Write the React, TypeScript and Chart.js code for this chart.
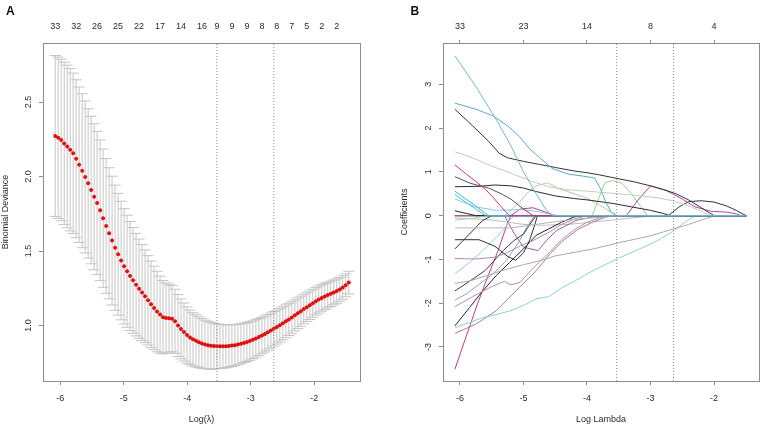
import React, { useEffect, useRef } from "react";
import { Chart, registerables } from "chart.js";

Chart.register(...registerables);

const FONT_FAMILY = '"Liberation Sans", Arial, Helvetica, sans-serif';
const AXIS_GREY = "#8c8c8c";
const TEXT = "#2b2b2b";
const BAR_GREY = "#c4c4c4";
const VLINE_GREY = "#8a8a8a";

// ---------------- Panel A: cross-validated binomial deviance ----------------
const A_LOG_LAMBDA = [
  -6.080, -6.033, -5.986, -5.938, -5.891, -5.844, -5.797, -5.750, -5.703, -5.655,
  -5.608, -5.561, -5.514, -5.467, -5.420, -5.372, -5.325, -5.278, -5.231, -5.184,
  -5.137, -5.089, -5.042, -4.995, -4.948, -4.901, -4.854, -4.806, -4.759, -4.712,
  -4.665, -4.618, -4.571, -4.523, -4.476, -4.429, -4.382, -4.335, -4.287, -4.240,
  -4.193, -4.146, -4.099, -4.052, -4.004, -3.957, -3.910, -3.863, -3.816, -3.769,
  -3.721, -3.674, -3.627, -3.580, -3.533, -3.486, -3.438, -3.391, -3.344, -3.297,
  -3.250, -3.203, -3.155, -3.108, -3.061, -3.014, -2.967, -2.920, -2.872, -2.825,
  -2.778, -2.731, -2.684, -2.637, -2.589, -2.542, -2.495, -2.448, -2.401, -2.354,
  -2.306, -2.259, -2.212, -2.165, -2.118, -2.071, -2.023, -1.976, -1.929, -1.882,
  -1.835, -1.788, -1.740, -1.693, -1.646, -1.599, -1.552, -1.505, -1.457,
];
const A_MEAN = [
  2.272, 2.260, 2.245, 2.222, 2.201, 2.180, 2.156, 2.119, 2.079, 2.039,
  1.997, 1.954, 1.909, 1.864, 1.822, 1.773, 1.720, 1.668, 1.619, 1.570,
  1.522, 1.478, 1.436, 1.397, 1.364, 1.332, 1.303, 1.274, 1.247, 1.221,
  1.196, 1.169, 1.143, 1.118, 1.094, 1.073, 1.056, 1.050, 1.049, 1.046,
  1.028, 1.000, 0.977, 0.956, 0.936, 0.920, 0.907, 0.897, 0.888, 0.880,
  0.873, 0.868, 0.864, 0.862, 0.860, 0.860, 0.860, 0.861, 0.863, 0.865,
  0.868, 0.872, 0.877, 0.883, 0.889, 0.896, 0.904, 0.913, 0.923, 0.933,
  0.943, 0.954, 0.966, 0.978, 0.990, 1.002, 1.015, 1.028, 1.041, 1.054,
  1.068, 1.082, 1.096, 1.110, 1.123, 1.136, 1.149, 1.162, 1.174, 1.185,
  1.195, 1.204, 1.213, 1.222, 1.231, 1.242, 1.255, 1.270, 1.288,
];
const A_SD = [
  0.540, 0.541, 0.542, 0.545, 0.546, 0.545, 0.538, 0.530, 0.522, 0.517,
  0.510, 0.501, 0.495, 0.490, 0.481, 0.472, 0.464, 0.452, 0.440, 0.432,
  0.420, 0.409, 0.398, 0.387, 0.376, 0.366, 0.355, 0.344, 0.333, 0.322,
  0.311, 0.300, 0.290, 0.280, 0.270, 0.258, 0.246, 0.236, 0.228, 0.222,
  0.215, 0.208, 0.201, 0.195, 0.189, 0.184, 0.179, 0.175, 0.171, 0.167,
  0.163, 0.160, 0.157, 0.154, 0.150, 0.148, 0.146, 0.144, 0.142, 0.140,
  0.138, 0.136, 0.134, 0.132, 0.131, 0.129, 0.127, 0.126, 0.124, 0.122,
  0.121, 0.119, 0.118, 0.116, 0.114, 0.113, 0.111, 0.110, 0.108, 0.106,
  0.104, 0.103, 0.101, 0.099, 0.097, 0.096, 0.094, 0.092, 0.091, 0.089,
  0.088, 0.086, 0.085, 0.083, 0.082, 0.080, 0.079, 0.077, 0.076,
];
const A_TOP_POS = [
  -6.080, -5.750, -5.420, -5.089, -4.759, -4.429, -4.099, -3.769, -3.533,
  -3.297, -3.061, -2.825, -2.589, -2.354, -2.118, -1.882, -1.646,
];
const A_TOP_COUNTS = ["33", "32", "26", "25", "22", "17", "14", "16", "9", "9", "9", "8", "8", "7", "5", "2", "2"];
const A_X_TICKS = [-6, -5, -4, -3, -2];
const A_Y_TICKS = [1.0, 1.5, 2.0, 2.5];
const A_X_RANGE = [-6.272, -1.28];
const A_Y_RANGE = [0.6275, 2.896];

const LOG_LAMBDA_MIN = -3.533;
const LOG_LAMBDA_1SE = -2.637;

// ---------------- Panel B: coefficient paths ----------------
const B_X_TICKS = [-6, -5, -4, -3, -2];
const B_TOP_COUNTS = ["33", "23", "14", "8", "4"];
const B_Y_TICKS = [-3, -2, -1, 0, 1, 2, 3];
const B_X_RANGE = [-6.267, -1.292];
const B_Y_RANGE = [-3.777, 3.943];
const B_PATH_END = -1.49;

const PATH_01 = [[-6.08, 3.65], [-5.75, 2.95], [-5.43, 2.2], [-5.2, 1.6], [-5.0, 1.0], [-4.8, 0.5], [-4.65, 0.15], [-4.55, 0]];
const PATH_02 = [[-6.08, 2.57], [-5.75, 2.43], [-5.48, 2.28], [-5.25, 2.05], [-5.06, 1.8], [-4.9, 1.52], [-4.75, 1.33], [-4.55, 1.08], [-4.3, 0.95], [-4.05, 0.9], [-3.88, 0.86], [-3.8, 0.65], [-3.7, 0.3], [-3.62, 0.08], [-3.54, 0]];
const PATH_03 = [[-6.08, 2.43], [-5.8, 2.05], [-5.55, 1.7], [-5.38, 1.42], [-5.25, 1.32], [-5.0, 1.24], [-4.75, 1.17], [-4.5, 1.1], [-4.2, 1.02], [-4.0, 0.98], [-3.8, 0.93], [-3.53, 0.85], [-3.25, 0.77], [-3.0, 0.68], [-2.8, 0.6], [-2.6, 0.5], [-2.4, 0.36], [-2.2, 0.18], [-2.0, 0]];
const PATH_04 = [[-6.08, 1.46], [-5.8, 1.32], [-5.5, 1.13], [-5.2, 0.97], [-4.9, 0.8], [-4.6, 0.66], [-4.3, 0.59], [-4.0, 0.56], [-3.6, 0.51], [-3.2, 0.46], [-2.9, 0.41], [-2.65, 0.34], [-2.4, 0.22], [-2.2, 0.1], [-2.05, 0]];
const PATH_05 = [[-6.08, 1.16], [-5.9, 0.95], [-5.75, 0.78], [-5.6, 0.6], [-5.48, 0.42], [-5.35, 0.2], [-5.27, 0.07], [-5.22, 0]];
const PATH_06 = [[-6.08, 0.89], [-5.84, 0.74], [-5.55, 0.63], [-5.35, 0.5], [-5.2, 0.38], [-5.0, 0.15], [-4.85, 0]];
const PATH_07 = [[-6.08, 0.66], [-5.7, 0.67], [-5.45, 0.7], [-5.2, 0.68], [-5.0, 0.63], [-4.8, 0.55], [-4.5, 0.45], [-4.2, 0.39], [-4.0, 0.36], [-3.6, 0.28], [-3.3, 0.2], [-3.0, 0.12], [-2.8, 0.05], [-2.7, 0]];
const PATH_08 = [[-6.08, 0.56], [-5.95, 0.42], [-5.75, 0.22], [-5.6, 0.05], [-5.55, 0]];
const PATH_09 = [[-6.08, 0.48], [-5.9, 0.3], [-5.75, 0.15], [-5.62, 0.02], [-5.58, 0]];
const PATH_10 = [[-6.08, 0.38], [-5.75, 0.2], [-5.43, 0.12], [-5.06, 0.14], [-4.8, 0.1], [-4.6, 0.04], [-4.45, 0]];
const PATH_11 = [[-6.08, 0.11], [-5.9, 0.05], [-5.75, 0]];
const PATH_12 = [[-6.08, -0.1], [-5.8, -0.06], [-5.55, 0]];
const PATH_13 = [[-6.08, -0.28], [-5.6, -0.28], [-5.2, -0.28], [-4.9, -0.22], [-4.6, -0.16], [-4.3, -0.1], [-4.0, -0.06], [-3.7, -0.03], [-3.45, 0]];
const PATH_14 = [[-6.08, -0.55], [-5.7, -0.55], [-5.45, -0.7], [-5.25, -0.93], [-5.12, -1.02], [-5.0, -0.85], [-4.9, -0.55], [-4.82, -0.2], [-4.78, 0]];
const PATH_15 = [[-6.08, -0.76], [-5.85, -0.42], [-5.65, -0.12], [-5.5, 0]];
const PATH_16 = [[-6.08, -0.98], [-5.75, -0.99], [-5.45, -0.95], [-5.25, -0.84], [-5.05, -0.69], [-4.85, -0.57], [-4.6, -0.38], [-4.4, -0.2], [-4.2, -0.08], [-4.0, 0]];
const PATH_17 = [[-6.08, -1.33], [-5.85, -1.07], [-5.64, -0.8], [-5.48, -0.57], [-5.32, -0.34], [-5.22, -0.11], [-5.15, 0]];
const PATH_18 = [[-6.08, -1.55], [-5.84, -1.49], [-5.58, -1.37], [-5.35, -1.26], [-5.0, -1.12], [-4.74, -1.03], [-4.5, -0.92], [-4.2, -0.84], [-3.9, -0.76], [-3.5, -0.62], [-3.0, -0.46], [-2.7, -0.33], [-2.4, -0.2], [-2.2, -0.1], [-1.98, 0]];
const PATH_19 = [[-6.08, -1.72], [-5.85, -1.5], [-5.6, -1.25], [-5.32, -0.8], [-5.15, -0.57], [-5.0, -0.42], [-4.9, -0.2], [-4.8, 0]];
const PATH_20 = [[-6.08, -1.93], [-5.9, -1.79], [-5.69, -1.56], [-5.48, -1.33], [-5.27, -1.03], [-5.06, -0.57], [-4.95, -0.27], [-4.85, -0.05], [-4.8, 0]];
const PATH_21 = [[-6.08, -2.08], [-5.8, -1.85], [-5.5, -1.62], [-5.3, -1.5], [-5.2, -1.58], [-5.05, -1.52], [-4.85, -1.2], [-4.6, -0.85], [-4.4, -0.55], [-4.2, -0.32], [-4.0, -0.15], [-3.8, -0.05], [-3.65, 0]];
const PATH_22 = [[-6.08, -2.52], [-5.85, -2.1], [-5.64, -1.72], [-5.43, -1.37], [-5.22, -1.07], [-5.0, -0.76], [-4.8, -0.45], [-4.6, -0.3], [-4.4, -0.15], [-4.2, -0.03], [-4.05, 0]];
const PATH_23 = [[-6.08, -2.56], [-5.85, -2.44], [-5.64, -2.33], [-5.4, -2.25], [-5.2, -2.17], [-5.0, -2.05], [-4.8, -1.9], [-4.6, -1.85], [-4.4, -1.65], [-4.2, -1.5], [-4.0, -1.33], [-3.8, -1.18], [-3.5, -0.97], [-3.2, -0.78], [-2.9, -0.58], [-2.65, -0.36], [-2.45, -0.14], [-2.3, 0]];
const PATH_24 = [[-6.08, -2.69], [-5.75, -2.48], [-5.43, -2.17], [-5.12, -1.72], [-4.8, -1.26], [-4.6, -0.9], [-4.4, -0.6], [-4.15, -0.32], [-3.9, -0.14], [-3.7, -0.03], [-3.6, 0]];
const PATH_25 = [[-6.08, -3.51], [-5.9, -2.75], [-5.72, -2.0], [-5.55, -1.35], [-5.4, -0.8], [-5.27, -0.25], [-5.2, 0], [-5.05, 0.15], [-4.85, 0.18], [-4.65, 0.08], [-4.5, 0]];
const PATH_26 = [[-6.08, 0], [-3.38, 0], [-3.2, 0.35], [-3.0, 0.68], [-2.75, 0.57], [-2.5, 0.38], [-2.3, 0.2], [-2.05, 0.1], [-1.8, 0.08], [-1.65, 0.04], [-1.58, 0]];
const PATH_27 = [[-6.08, 0], [-5.3, 0], [-5.1, 0.25], [-4.95, 0.5], [-4.8, 0.68], [-4.62, 0.75], [-4.45, 0.62], [-4.2, 0.5], [-4.0, 0.4], [-3.8, 0.24], [-3.62, 0.08], [-3.52, 0]];
const PATH_28 = [[-6.08, 0], [-3.92, 0], [-3.8, 0.45], [-3.72, 0.75], [-3.6, 0.8], [-3.45, 0.74], [-3.3, 0.5], [-3.15, 0.2], [-3.05, 0]];
const PATH_29 = [[-6.08, 0], [-5.3, 0], [-5.15, -0.4], [-5.0, -0.72], [-4.77, -0.8], [-4.64, -0.57], [-4.48, -0.34], [-4.17, -0.11], [-3.9, -0.03], [-3.7, 0]];
const PATH_30 = [[-6.08, 0], [-2.72, 0], [-2.55, 0.2], [-2.4, 0.32], [-2.2, 0.34], [-2.0, 0.31], [-1.8, 0.22], [-1.65, 0.12], [-1.55, 0.04], [-1.49, 0]];
const PATH_31 = [[-6.08, -0.05], [-5.5, -0.1], [-5.0, -0.2], [-4.7, -0.22], [-4.3, -0.2], [-4.0, -0.16], [-3.6, -0.1], [-3.2, -0.04], [-2.9, 0]];
const PATH_32 = [[-6.08, 0]];

const B_PATHS = [
  PATH_01, PATH_02, PATH_03, PATH_04, PATH_05, PATH_06, PATH_07, PATH_08,
  PATH_09, PATH_10, PATH_11, PATH_12, PATH_13, PATH_14, PATH_15, PATH_16,
  PATH_17, PATH_18, PATH_19, PATH_20, PATH_21, PATH_22, PATH_23, PATH_24,
  PATH_25, PATH_26, PATH_27, PATH_28, PATH_29, PATH_30, PATH_31, PATH_32,
];
const B_COLORS = [
  "#6cbccf", "#5aa9c8", "#333333", "#c4cdb9", "#c2318f", "#555555", "#2a2a2a", "#2fb9d3",
  "#49c2dd", "#8dc8e0", "#222222", "#a6d39b", "#b5b5b5", "#333333", "#333333", "#a690a0",
  "#8fd0e0", "#a9a9a9", "#3a3a3a", "#8fa6b8", "#b98e9c", "#222222", "#8ccfde", "#b07a8a",
  "#c0388e", "#b5479a", "#a8d49a", "#9ccf8a", "#9b5fa6", "#333333", "#bdbdbd", "#222222",
];

// ---------------- helpers ----------------
const font = (size = 9) => ({ family: FONT_FAMILY, size });
const fixTicks = (vals: number[]) => (s: any) => {
  s.ticks = vals.map((v) => ({ value: v }));
};

type ScaleSpec = {
  xRange: number[];
  yRange: number[];
  xTicks: number[];
  yTicks: number[];
  topPos: number[];
  topLabels: string[];
  topTickLen: number;
  topPad: number;
  leftW: number;
  rightW: number;
  yTickPad: number;
  yTitle: string;
  yTitlePad: number;
  xTitle: string;
  yFmt: (v: number) => string;
};

function buildScales(o: ScaleSpec): any {
  return {
    x: {
      type: "linear",
      position: "bottom",
      min: o.xRange[0],
      max: o.xRange[1],
      afterBuildTicks: fixTicks(o.xTicks),
      afterFit: (s: any) => {
        s.height = 56;
      },
      ticks: {
        autoSkip: false,
        maxRotation: 0,
        minRotation: 0,
        padding: 8.6,
        color: TEXT,
        font: font(),
        callback: (v: any) => String(v),
      },
      grid: { display: true, drawOnChartArea: false, drawTicks: true, tickLength: 4, color: AXIS_GREY, lineWidth: 1 },
      border: { display: true, color: AXIS_GREY, width: 1 },
      title: { display: true, text: o.xTitle, color: TEXT, font: font(), padding: { top: 0, bottom: 12.1 } },
    },
    xTop: {
      type: "linear",
      position: "top",
      axis: "x",
      min: o.xRange[0],
      max: o.xRange[1],
      afterBuildTicks: fixTicks(o.topPos),
      afterFit: (s: any) => {
        s.height = 43;
      },
      ticks: {
        autoSkip: false,
        maxRotation: 0,
        minRotation: 0,
        padding: o.topPad,
        color: TEXT,
        font: font(),
        callback: (_v: any, i: number) => o.topLabels[i],
      },
      grid: {
        display: true,
        drawOnChartArea: false,
        drawTicks: o.topTickLen > 0,
        tickLength: o.topTickLen,
        color: AXIS_GREY,
      },
      border: { display: true, color: AXIS_GREY, width: 1 },
    },
    y: {
      type: "linear",
      position: "left",
      min: o.yRange[0],
      max: o.yRange[1],
      afterBuildTicks: fixTicks(o.yTicks),
      afterFit: (s: any) => {
        s.width = o.leftW;
      },
      ticks: {
        minRotation: 90,
        maxRotation: 90,
        crossAlign: "center",
        padding: o.yTickPad,
        color: TEXT,
        font: font(),
        callback: (v: any) => o.yFmt(Number(v)),
      },
      grid: { display: true, drawOnChartArea: false, drawTicks: true, tickLength: 4, color: AXIS_GREY },
      border: { display: true, color: AXIS_GREY, width: 1 },
      title: { display: true, text: o.yTitle, color: TEXT, font: font(), padding: { top: o.yTitlePad, bottom: 0 } },
    },
    yR: {
      type: "linear",
      position: "right",
      axis: "y",
      min: o.yRange[0],
      max: o.yRange[1],
      afterFit: (s: any) => {
        s.width = o.rightW;
      },
      ticks: { display: false },
      grid: { display: false },
      border: { display: true, color: AXIS_GREY, width: 1 },
    },
  };
}

function vline(x: number, yRange: number[]) {
  return {
    type: "line",
    data: [
      { x, y: yRange[0] },
      { x, y: yRange[1] },
    ],
    borderColor: VLINE_GREY,
    borderWidth: 1,
    borderDash: [1, 2],
    pointRadius: 0,
    order: -1,
  };
}

function configA(): any {
  const upper = A_LOG_LAMBDA.map((x, i) => ({ x, y: A_MEAN[i] + A_SD[i] }));
  const lower = A_LOG_LAMBDA.map((x, i) => ({ x, y: A_MEAN[i] - A_SD[i] }));
  const bars: any[] = [];
  A_LOG_LAMBDA.forEach((x, i) => {
    bars.push({ x, y: lower[i].y }, { x, y: upper[i].y }, { x, y: null });
  });
  return {
    type: "scatter",
    data: {
      datasets: [
        vline(LOG_LAMBDA_MIN, A_Y_RANGE),
        vline(LOG_LAMBDA_1SE, A_Y_RANGE),
        {
          label: "Binomial deviance",
          data: A_LOG_LAMBDA.map((x, i) => ({ x, y: A_MEAN[i] })),
          pointRadius: 2,
          pointBorderWidth: 0,
          backgroundColor: "#e01010",
          borderColor: "#e01010",
          order: 0,
        },
        {
          label: "upper",
          data: upper,
          pointStyle: "line",
          pointRadius: 5.5,
          borderColor: BAR_GREY,
          borderWidth: 1,
          order: 1,
        },
        {
          label: "lower",
          data: lower,
          pointStyle: "line",
          pointRadius: 5.5,
          borderColor: BAR_GREY,
          borderWidth: 1,
          order: 1,
        },
        {
          type: "line",
          label: "sd",
          data: bars,
          borderColor: BAR_GREY,
          borderWidth: 1,
          pointRadius: 0,
          spanGaps: false,
          order: 2,
        },
      ],
    },
    options: {
      responsive: false,
      animation: false,
      events: [],
      layout: { padding: 0 },
      plugins: { legend: { display: false }, tooltip: { enabled: false } },
      scales: buildScales({
        xRange: A_X_RANGE,
        yRange: A_Y_RANGE,
        xTicks: A_X_TICKS,
        yTicks: A_Y_TICKS,
        topPos: A_TOP_POS,
        topLabels: A_TOP_COUNTS,
        topTickLen: 0,
        topPad: 10.9,
        leftW: 43,
        rightW: 21,
        yTickPad: 4.44,
        yTitle: "Binomial Deviance",
        yTitlePad: 0.1,
        xTitle: "Log(\u03bb)",
        yFmt: (v) => v.toFixed(1),
      }),
    },
  };
}

function configB(): any {
  const paths = B_PATHS.map((pts, i) => {
    const data = pts.map(([x, y]) => ({ x, y }));
    const last = pts[pts.length - 1];
    if (last[1] === 0 && last[0] < B_PATH_END) data.push({ x: B_PATH_END, y: 0 });
    return {
      type: "line",
      label: "coef " + (i + 1),
      data,
      borderColor: B_COLORS[i],
      borderWidth: 1,
      pointRadius: 0,
      tension: 0,
      order: 1,
    };
  });
  return {
    type: "scatter",
    data: {
      datasets: [vline(LOG_LAMBDA_MIN, B_Y_RANGE), vline(LOG_LAMBDA_1SE, B_Y_RANGE), ...paths],
    },
    options: {
      responsive: false,
      animation: false,
      events: [],
      layout: { padding: 0 },
      plugins: { legend: { display: false }, tooltip: { enabled: false } },
      scales: buildScales({
        xRange: B_X_RANGE,
        yRange: B_Y_RANGE,
        xTicks: B_X_TICKS,
        yTicks: B_Y_TICKS,
        topPos: B_X_TICKS,
        topLabels: B_TOP_COUNTS,
        topTickLen: 3,
        topPad: 7.9,
        leftW: 62,
        rightW: 3,
        yTickPad: 6.7,
        yTitle: "Coefficients",
        yTitlePad: 18.6,
        xTitle: "Log Lambda",
        yFmt: (v) => String(v),
      }),
    },
  };
}

function ChartCanvas({ make, left }: { make: () => any; left: number }) {
  const ref = useRef<HTMLCanvasElement | null>(null);
  useEffect(() => {
    if (!ref.current) return;
    const chart = new Chart(ref.current, make());
    return () => chart.destroy();
  }, [make]);
  return (
    <canvas
      ref={ref}
      width={381}
      height={437}
      style={{ position: "absolute", left, top: 0, width: 381, height: 437, display: "block" }}
    />
  );
}

const letterStyle: React.CSSProperties = {
  position: "absolute",
  fontFamily: FONT_FAMILY,
  fontWeight: "bold",
  fontSize: 12,
  lineHeight: "12px",
  color: "#111",
};

export default function App() {
  return (
    <div style={{ position: "fixed", left: 0, top: 0, width: 762, height: 437, background: "#fff", overflow: "hidden" }}>
      <ChartCanvas make={configA} left={0} />
      <ChartCanvas make={configB} left={381} />
      <div style={{ ...letterStyle, left: 6, top: 5 }}>A</div>
      <div style={{ ...letterStyle, left: 410.5, top: 4.5 }}>B</div>
    </div>
  );
}
